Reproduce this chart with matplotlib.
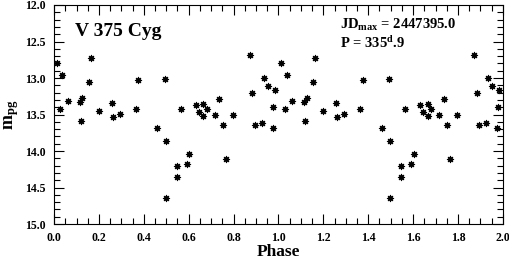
"""
plot.py

Light curve of the Mira variable V 375 Cyg, folded on phase and
plotted twice (phase 0-2). Saves the figure as out.png.
"""

import numpy as np
import matplotlib.pyplot as plt
from matplotlib.ticker import MultipleLocator

# phase (0..1) and photographic magnitude
phase = [0.012, 0.036, 0.028, 0.062, 0.116, 0.126, 0.120, 0.156, 0.165, 0.200,
         0.258, 0.263, 0.294, 0.364, 0.376, 0.460, 0.494, 0.499, 0.499, 0.546,
         0.548, 0.566, 0.591, 0.603, 0.631, 0.644, 0.665, 0.665, 0.680, 0.717,
         0.736, 0.753, 0.766, 0.796, 0.873, 0.883, 0.895, 0.927, 0.935, 0.952,
         0.974, 0.977, 0.983]
mag = [12.79, 12.96, 13.43, 13.31, 13.33, 13.28, 13.59, 13.06, 12.72, 13.45,
       13.34, 13.54, 13.49, 13.43, 13.03, 13.69, 13.02, 13.86, 14.64, 14.21,
       14.36, 13.42, 14.18, 14.04, 13.37, 13.46, 13.35, 13.52, 13.43, 13.50,
       13.29, 13.64, 14.11, 13.51, 12.68, 13.20, 13.65, 13.62, 13.00, 13.11,
       13.69, 13.40, 13.16]

star_name = "V 375 Cyg"
jd_max = "2447395.0"

plt.rcParams["font.family"] = ["Liberation Serif", "DejaVu Serif"]
plt.rcParams["font.weight"] = "bold"
plt.rcParams["mathtext.fontset"] = "custom"
plt.rcParams["mathtext.rm"] = "Liberation Serif:bold"
plt.rcParams["mathtext.it"] = "Liberation Serif:bold"
plt.rcParams["mathtext.bf"] = "Liberation Serif:bold"

fig = plt.figure(figsize=(5.10, 2.63), dpi=100)
ax = fig.add_axes([0.106, 0.148, 0.880, 0.833])

# two cycles: phase and phase + 1
ph = np.array(phase)
mg = np.array(mag)
ax.plot(np.concatenate([ph, ph + 1]), np.concatenate([mg, mg]),
        linestyle="none", marker=(8, 1, 0), markersize=5,
        color="black", markeredgewidth=0.6)

ax.set_xlim(0, 2)
ax.set_ylim(15, 12)

ax.xaxis.set_major_locator(MultipleLocator(0.2))
ax.xaxis.set_minor_locator(MultipleLocator(0.05))
ax.yaxis.set_major_locator(MultipleLocator(0.5))
ax.yaxis.set_minor_locator(MultipleLocator(0.1))
ax.xaxis.set_major_formatter(lambda v, p: f"{v:.1f}")
ax.yaxis.set_major_formatter(lambda v, p: f"{v:.1f}")

ax.tick_params(which="both", direction="in", top=True, right=True,
               labelsize=8.5, width=0.8)
ax.tick_params(which="major", length=7, pad=6)
ax.tick_params(which="minor", length=4)
for sp in ax.spines.values():
    sp.set_linewidth(0.8)

ax.set_xlabel("Phase", fontsize=12.5, fontweight="bold", labelpad=0)
ax.set_ylabel(r"m$_{\rm pg}$", fontsize=13, fontweight="bold", labelpad=3)

ax.text(0.047, 0.877, star_name, transform=ax.transAxes,
        fontsize=14, fontweight="bold", va="center", ha="left")
ax.text(0.637, 0.909, r"JD$_{\rm max}$ = " + jd_max, transform=ax.transAxes,
        fontsize=10.5, fontweight="bold", va="center", ha="left")
ax.text(0.637, 0.826, r"P = 335$^{\rm d}$.9", transform=ax.transAxes,
        fontsize=10.5, fontweight="bold", va="center", ha="left")

fig.savefig("out.png", dpi=100)
